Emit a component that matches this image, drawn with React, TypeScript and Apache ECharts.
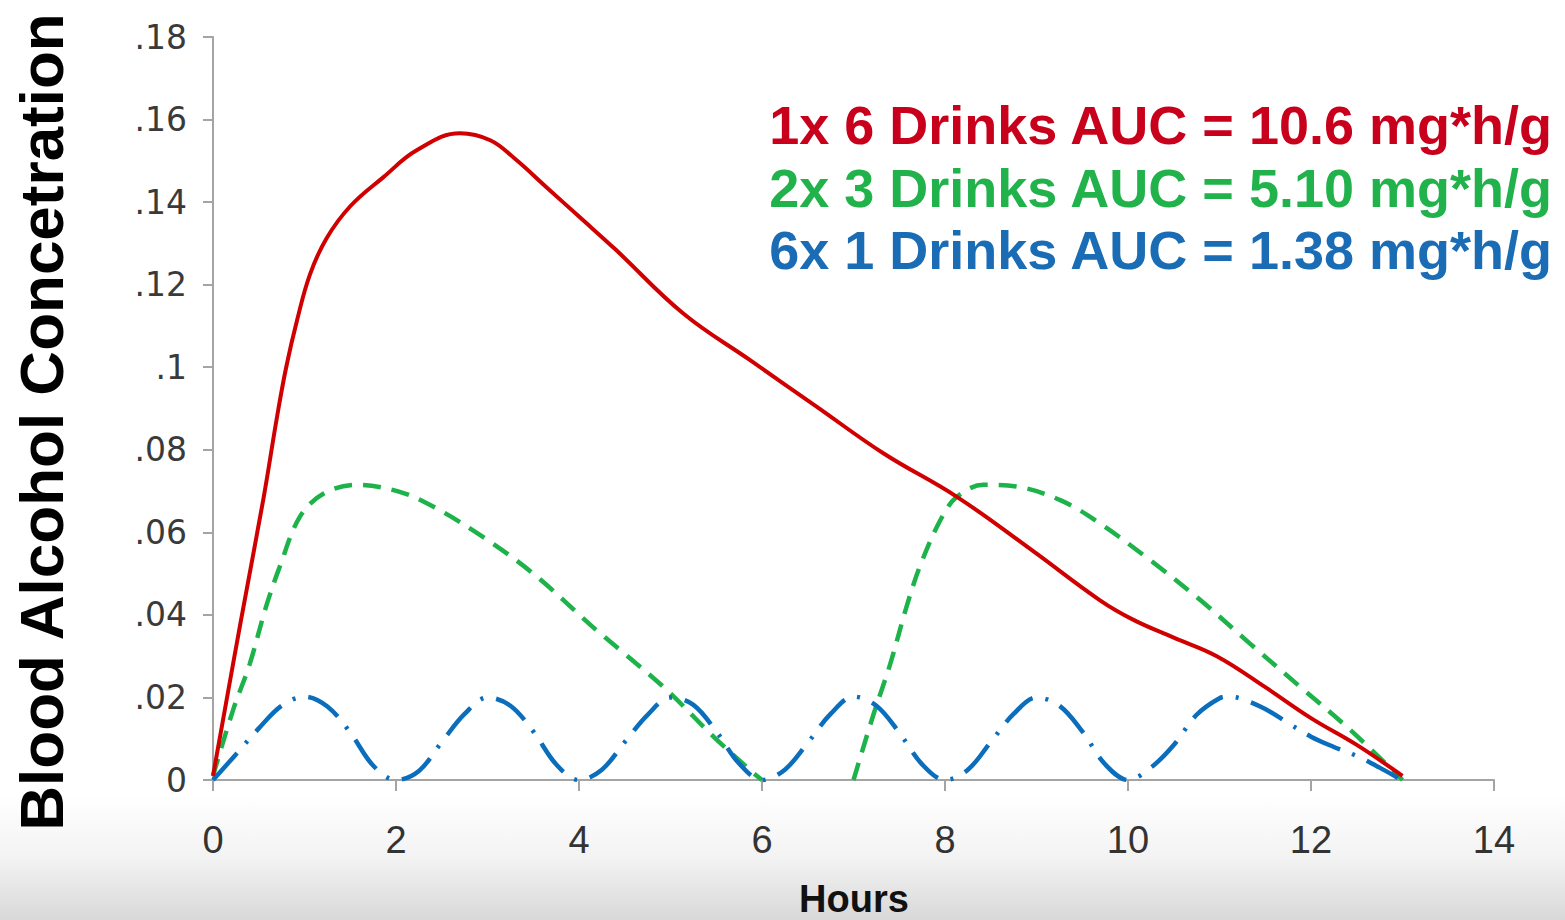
import React, { useEffect, useRef } from "react";
import * as echarts from "echarts";

// Hours vs blood alcohol concentration
const redData: [number, number][] = [
  [0, 0.001], [0.3, 0.038], [0.55, 0.068], [0.7, 0.088], [0.8, 0.1], [0.92, 0.1115],
  [1.06, 0.1225], [1.24, 0.1312], [1.5, 0.139], [1.86, 0.146], [2.23, 0.1526],
  [2.7, 0.1567], [3.03, 0.155], [3.3, 0.1505], [3.65, 0.1435], [4.0, 0.1365],
  [4.4, 0.1285], [5.14, 0.113], [5.87, 0.1017], [6.6, 0.0904], [7.33, 0.0791],
  [8.13, 0.0686], [8.96, 0.0555], [9.69, 0.0436], [10.06, 0.0388], [10.5, 0.0345],
  [10.97, 0.03], [11.5, 0.0225], [12.0, 0.015], [12.5, 0.0085], [13.0, 0.001],
];

const greenData: [number, number | null][] = [
  [0, 0.001], [0.22, 0.017], [0.4, 0.028], [0.58, 0.042], [0.73, 0.0517], [0.95, 0.0638],
  [1.21, 0.0694], [1.57, 0.0715], [2.04, 0.0698], [2.41, 0.0662], [2.95, 0.0589],
  [3.5, 0.05], [4.19, 0.0363], [4.45, 0.0315], [4.96, 0.0218], [5.47, 0.0105],
  [5.87, 0.0024], [6.0, 0], [6.5, null],
  [7.0, 0], [7.22, 0.016], [7.4, 0.028], [7.58, 0.042], [7.73, 0.052], [7.95, 0.063],
  [8.13, 0.0686], [8.42, 0.0715], [8.78, 0.0711], [9.26, 0.0678], [9.69, 0.0622],
  [10.24, 0.0533], [10.79, 0.0436], [11.33, 0.0331], [11.88, 0.0226], [12.43, 0.0121],
  [13.0, 0],
];

const blueData: [number, number][] = [
  [0, 0], [0.25, 0.0062], [0.5, 0.0125], [0.75, 0.018], [1.0, 0.0202], [1.25, 0.0178],
  [1.5, 0.0115], [1.75, 0.0035], [2.0, 0], [2.25, 0.0022], [2.5, 0.0092], [2.75, 0.016],
  [3.0, 0.02], [3.25, 0.018], [3.5, 0.0118], [3.75, 0.0038], [4.0, 0], [4.25, 0.0025],
  [4.5, 0.0092], [4.75, 0.0158], [5.0, 0.02], [5.25, 0.0182], [5.5, 0.0118], [5.75, 0.004],
  [6.0, 0], [6.25, 0.0025], [6.5, 0.009], [6.75, 0.016], [7.0, 0.0202], [7.25, 0.018],
  [7.5, 0.0115], [7.75, 0.0038], [8.0, 0], [8.25, 0.0025], [8.5, 0.0092], [8.75, 0.016],
  [9.0, 0.02], [9.25, 0.018], [9.5, 0.0118], [9.75, 0.0038], [10.0, 0], [10.25, 0.003],
  [10.5, 0.0085], [10.75, 0.0158], [11.0, 0.0198], [11.1, 0.0202], [11.25, 0.0196],
  [11.5, 0.0172], [11.75, 0.0138], [12.0, 0.0105], [12.25, 0.008], [12.5, 0.0058],
  [12.75, 0.003], [12.95, 0.0005],
];

const seriesNames = ["1x 6 Drinks", "2x 3 Drinks", "6x 1 Drinks"];
const legendLines = [
  "1x 6 Drinks AUC = 10.6 mg*h/g",
  "2x 3 Drinks AUC = 5.10 mg*h/g",
  "6x 1 Drinks AUC = 1.38 mg*h/g",
];
const yTickLabels = ["0", ".02", ".04", ".06", ".08", ".1", ".12", ".14", ".16", ".18"];
const xAxisTitle = "Hours";
const yAxisTitle = "Blood Alcohol Concetration";

const RED = "#D00000";
const GREEN = "#1DB34A";
const BLUE = "#0A6EBD";
const TEXT_RED = "#C8001C";
const TEXT_GREEN = "#22B24C";
const TEXT_BLUE = "#1A6CB4";

export default function App() {
  const ref = useRef<HTMLDivElement>(null);
  useEffect(() => {
    if (!ref.current) return;
    const chart = echarts.init(ref.current, null, { renderer: "svg" });
    const legendColors = [TEXT_RED, TEXT_GREEN, TEXT_BLUE];
    const legendY = [125, 188, 250];
    chart.setOption({
      animation: false,
      backgroundColor: "#ffffff",
      grid: { left: 213, right: 71, top: 37, bottom: 140, outerBoundsMode: "none" },
      xAxis: {
        type: "value",
        min: 0,
        max: 14,
        interval: 2,
        axisLine: { show: true, lineStyle: { color: "#a4a4a4", width: 2 } },
        axisTick: { show: true, length: 11, lineStyle: { color: "#a4a4a4", width: 2 } },
        splitLine: { show: false },
        axisLabel: {
          margin: 41,
          fontSize: 38,
          fontFamily: "Liberation Sans, Arial, sans-serif",
          color: "#333333",
        },
      },
      yAxis: {
        type: "value",
        min: 0,
        max: 0.18,
        interval: 0.02,
        axisLine: { show: true, lineStyle: { color: "#a4a4a4", width: 2 } },
        axisTick: { show: true, length: 10, lineStyle: { color: "#a4a4a4", width: 2 } },
        splitLine: { show: false },
        axisLabel: {
          margin: 26,
          fontSize: 33,
          fontFamily: "DejaVu Sans, sans-serif",
          color: "#3a3a3a",
          formatter: (v: number) => yTickLabels[Math.round(v / 0.02)] ?? "",
        },
      },
      series: [
        {
          name: seriesNames[0],
          type: "line",
          data: redData,
          smooth: 0.4,
          showSymbol: false,
          lineStyle: { color: RED, width: 4, type: "solid" },
          z: 3,
        },
        {
          name: seriesNames[1],
          type: "line",
          data: greenData,
          smooth: 0.35,
          connectNulls: false,
          showSymbol: false,
          lineStyle: { color: GREEN, width: 4.5, type: [18, 11] },
          z: 2,
        },
        {
          name: seriesNames[2],
          type: "line",
          data: blueData,
          smooth: 0.35,
          showSymbol: false,
          lineStyle: { color: BLUE, width: 4.5, type: [36, 13, 3, 13] },
          z: 2,
        },
      ],
      graphic: [
        {
          type: "rect",
          z: -100,
          silent: true,
          shape: { x: 0, y: 795, width: 1565, height: 125 },
          style: {
            fill: new echarts.graphic.LinearGradient(0, 0, 0, 1, [
              { offset: 0, color: "#ffffff" },
              { offset: 0.5, color: "#f3f3f3" },
              { offset: 1, color: "#d8d8d8" },
            ]),
          },
        },
        {
          type: "text",
          x: 41,
          y: 422,
          rotation: Math.PI / 2,
          style: {
            text: yAxisTitle,
            fontSize: 62,
            fontWeight: "bold",
            fontFamily: "Liberation Sans, Arial, sans-serif",
            fill: "#000000",
            textAlign: "center",
            textVerticalAlign: "middle",
          },
        },
        {
          type: "text",
          x: 854,
          y: 899,
          style: {
            text: xAxisTitle,
            fontSize: 38,
            fontWeight: "bold",
            fontFamily: "Liberation Sans, Arial, sans-serif",
            fill: "#111111",
            textAlign: "center",
            textVerticalAlign: "middle",
          },
        },
        ...legendLines.map((t, i) => ({
          type: "text",
          x: 1552,
          y: legendY[i],
          style: {
            text: t,
            fontSize: 54,
            fontWeight: "bold",
            fontFamily: "Liberation Sans, Arial, sans-serif",
            fill: legendColors[i],
            textAlign: "right",
            textVerticalAlign: "middle",
          },
        })),
      ],
    });
    return () => chart.dispose();
  }, []);
  return (
    <div
      ref={ref}
      style={{ position: "fixed", left: 0, top: 0, width: "1565px", height: "920px" }}
    />
  );
}
